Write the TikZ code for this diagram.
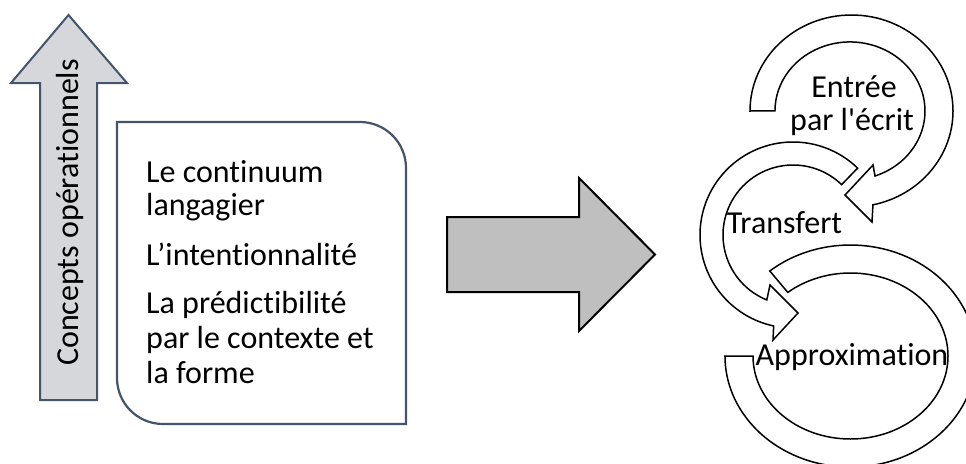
\documentclass[tikz,border=0pt]{standalone}
\usepackage{fontspec}
\setmainfont{Carlito}[Ligatures={TeXOff,CommonOff}]
\definecolor{slate}{HTML}{44546A}
\definecolor{upfill}{HTML}{D5D7DB}
\definecolor{bigfill}{HTML}{BFBFBF}
\begin{document}
\begin{tikzpicture}[x=1pt,y=-1pt,
  txt/.style={inner sep=0pt,anchor=base,font=\fontsize{32}{34}\selectfont},
  ltxt/.style={txt,anchor=base west},
  cyc/.style={draw=black,fill=white,line width=1.5pt,line join=miter},
  slateshape/.style={draw=slate,line width=2.2pt},
]
\useasboundingbox (0,0) rectangle (966,463);
\clip (0,0) rectangle (966,463);
% vertical up arrow
\draw[slateshape,fill=upfill,line width=2pt] (40,400) -- (40,83) -- (11,83) -- (68.5,15) -- (127,83) -- (97,83) -- (97,400) -- cycle;
\node[txt,rotate=90] (vt) at (78.5,212.5) {Concepts opérationnels};
% rounded box
\draw[slateshape,fill=white] (117,122) -- (360,122)
  arc[start angle=-90,end angle=0,radius=46] -- (406,424) -- (163,424)
  arc[start angle=90,end angle=180,radius=46] -- cycle;
\node[ltxt] (l1) at (146,182) {Le continuum};
\node[ltxt] (l2) at (146,215.5) {langagier};
\node[ltxt] (l3) at (146,265) {L’intentionnalité};
\node[ltxt] (l4) at (146,313) {La prédictibilité};
\node[ltxt] (l5) at (146,348) {par le contexte et};
\node[ltxt] (l6) at (146,383) {la forme};
% big grey arrow
\draw[draw=black,fill=bigfill,line width=2pt] (447,217) -- (579,217) -- (579,178) -- (655,254.5) -- (579,331) -- (579,292) -- (447,292) -- cycle;
% bottom cycle band
\draw[cyc] (769.8,271) arc[start angle=-130,end angle=180,x radius=125.5,y radius=111]
  -- (753,356) arc[start angle=180,end angle=-130,x radius=97.5,y radius=83] -- cycle;
% middle cycle arrow
\draw[cyc] (857.6,168.1) arc[start angle=-46,end angle=-258,radius=93]
  -- (773,340) -- (798,313) -- (770,285) -- (766.8,299.9)
  arc[start angle=-248,end angle=-46,radius=70] -- cycle;
% top cycle arrow
\draw[cyc] (750,111) arc[start angle=180,end angle=437.8,x radius=101.5,y radius=96]
  -- (872,222) -- (845,195) -- (873,165) -- (875,176)
  arc[start angle=70.5,end angle=-180,x radius=75,y radius=69] -- cycle;
\node[txt] (e1) at (854,97) {Entrée};
\node[txt] (e2) at (852,130) {par l'écrit};
\node[txt] (tr) at (784.5,233) {Transfert};
\node[txt] (ap) at (852,365) {Approximation};
\end{tikzpicture}
\end{document}
